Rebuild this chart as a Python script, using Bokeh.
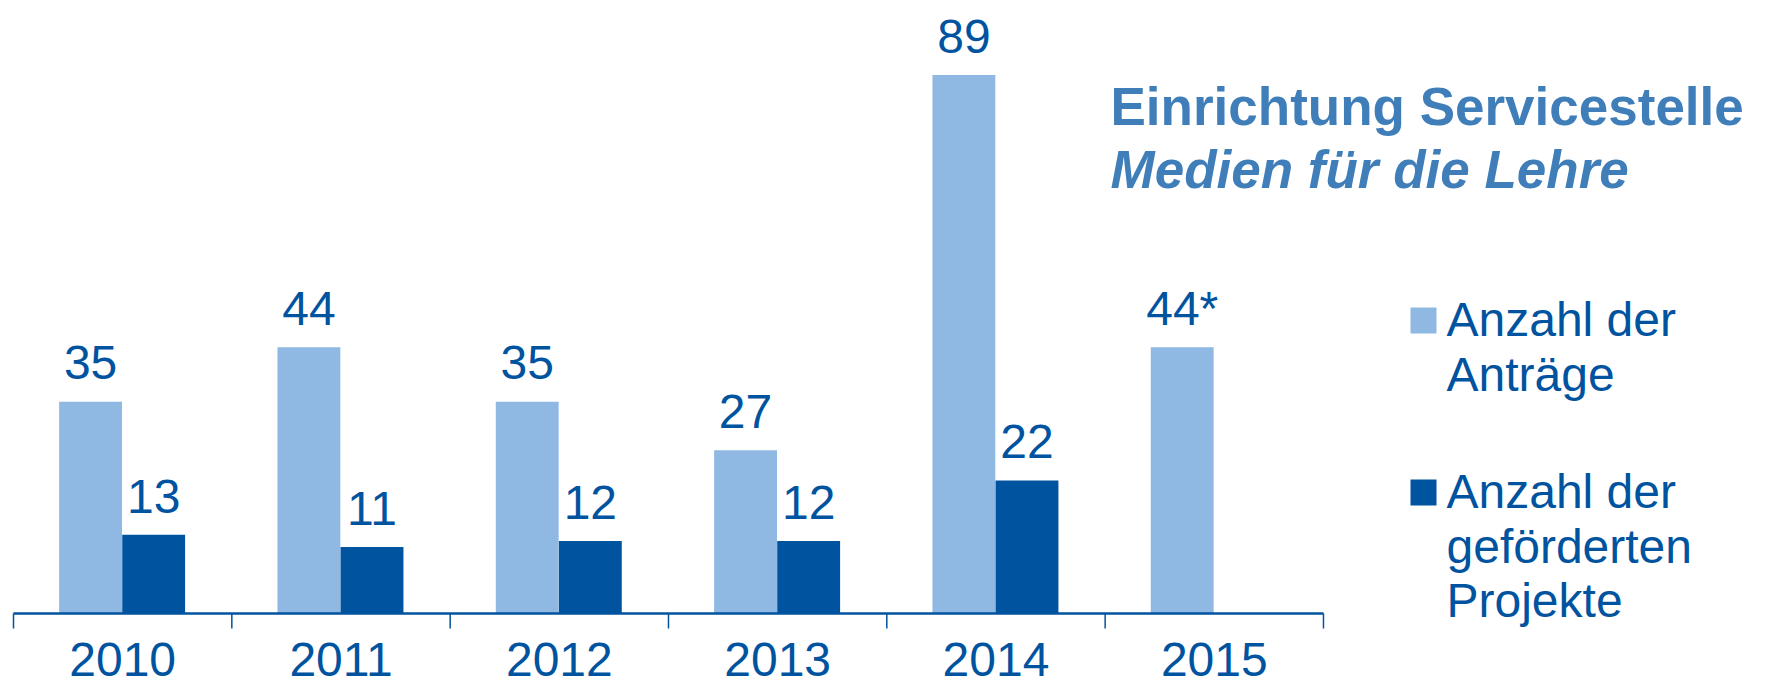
from bokeh.plotting import figure
from bokeh.models import Range1d
from bokeh.core.properties import value
from bokeh.embed import file_html
from bokeh.resources import INLINE

# ---- data ----
years = ["2010", "2011", "2012", "2013", "2014", "2015"]
antraege = [35, 44, 35, 27, 89, 44]
antraege_labels = ["35", "44", "35", "27", "89", "44*"]
projekte = [13, 11, 12, 12, 22, None]
projekte_labels = ["13", "11", "12", "12", "22", None]
legend_antraege = ["Anzahl der", "Anträge"]
legend_projekte = ["Anzahl der", "geförderten", "Projekte"]
title_lines = ["Einrichtung Servicestelle", "Medien für die Lehre"]

# ---- styling ----
LIGHT = "#8FB9E3"
DARK = "#00539F"
TEXT = "#00539F"
TITLE = "#3F7EB9"
FONT = value("Liberation Sans")

W, H = 1753, 687
X0_PAGE = 13.0
CAT_PX = 218.33
BASE_PAGE = 613.0
UNIT_PX = 6.05

NUM_SIZE = 48
LEG_SIZE = 48
TITLE_SIZE = 53


def shift(size):
    # empirical correction of the rendered baseline position
    return -0.35 * size


def px2x(px):
    return (px - X0_PAGE) / CAT_PX


def px2y(py):
    return (BASE_PAGE - py) / UNIT_PX


p = figure(width=W, height=H,
           x_range=Range1d(px2x(0), px2x(W)),
           y_range=Range1d(px2y(H), px2y(0)),
           x_axis_type=None, y_axis_type=None,
           output_backend="svg", toolbar_location=None,
           min_border=0)
p.outline_line_color = None
p.background_fill_color = "white"
p.border_fill_color = "white"

n = len(years)
x_light = [i + 0.353 for i in range(n)]
x_dark = [i + 0.642 for i in range(n)]
bw = 0.288

# bars
p.vbar(x=x_light, top=antraege, bottom=0, width=bw, fill_color=LIGHT, line_color=None)
xd = [x for x, v in zip(x_dark, projekte) if v is not None]
vd = [v for v in projekte if v is not None]
ld = [l for l in projekte_labels if l is not None]
p.vbar(x=xd, top=vd, bottom=0, width=bw, fill_color=DARK, line_color=None)

# value labels
p.text(x=x_light, y=antraege, text=antraege_labels, y_offset=-22 + shift(NUM_SIZE),
       text_align="center", text_baseline="alphabetic",
       text_font=FONT, text_font_size=f"{NUM_SIZE}px", text_color=TEXT)
p.text(x=xd, y=vd, text=ld, y_offset=-22 + shift(NUM_SIZE),
       text_align="center", text_baseline="alphabetic",
       text_font=FONT, text_font_size=f"{NUM_SIZE}px", text_color=TEXT)

# axis line and ticks
p.segment(x0=[0], y0=[0], x1=[n], y1=[0], line_color=DARK, line_width=2.5)
ticks = list(range(n + 1))
p.segment(x0=ticks, y0=[0] * (n + 1), x1=ticks, y1=[px2y(BASE_PAGE + 15)] * (n + 1),
          line_color=DARK, line_width=1.5)

# year labels
p.text(x=[i + 0.5 for i in range(n)], y=[0] * n, text=years,
       y_offset=63 + shift(NUM_SIZE),
       text_align="center", text_baseline="alphabetic",
       text_font=FONT, text_font_size=f"{NUM_SIZE}px", text_color=TEXT)

# title
p.text(x=[px2x(1110)], y=[px2y(125)], text=[title_lines[0]], y_offset=shift(TITLE_SIZE),
       text_align="left", text_baseline="alphabetic",
       text_font=FONT, text_font_size=f"{TITLE_SIZE}px", text_font_style="bold",
       text_color=TITLE)
p.text(x=[px2x(1110)], y=[px2y(188)], text=[title_lines[1]], y_offset=shift(TITLE_SIZE),
       text_align="left", text_baseline="alphabetic",
       text_font=FONT, text_font_size=f"{TITLE_SIZE}px", text_font_style="bold italic",
       text_color=TITLE)

# legend
p.rect(x=[px2x(1423)], y=[px2y(320)], width=26, height=26,
       width_units="screen", height_units="screen", fill_color=LIGHT, line_color=None)
p.rect(x=[px2x(1423)], y=[px2y(492)], width=26, height=26,
       width_units="screen", height_units="screen", fill_color=DARK, line_color=None)
p.text(x=[px2x(1446)] * 2, y=[px2y(336), px2y(391)], text=legend_antraege,
       y_offset=shift(LEG_SIZE),
       text_align="left", text_baseline="alphabetic",
       text_font=FONT, text_font_size=f"{LEG_SIZE}px", text_color=TEXT)
p.text(x=[px2x(1446)] * 3, y=[px2y(508), px2y(563), px2y(617)], text=legend_projekte,
       y_offset=shift(LEG_SIZE),
       text_align="left", text_baseline="alphabetic",
       text_font=FONT, text_font_size=f"{LEG_SIZE}px", text_color=TEXT)

open("out.html", "w").write(file_html(p, INLINE))
